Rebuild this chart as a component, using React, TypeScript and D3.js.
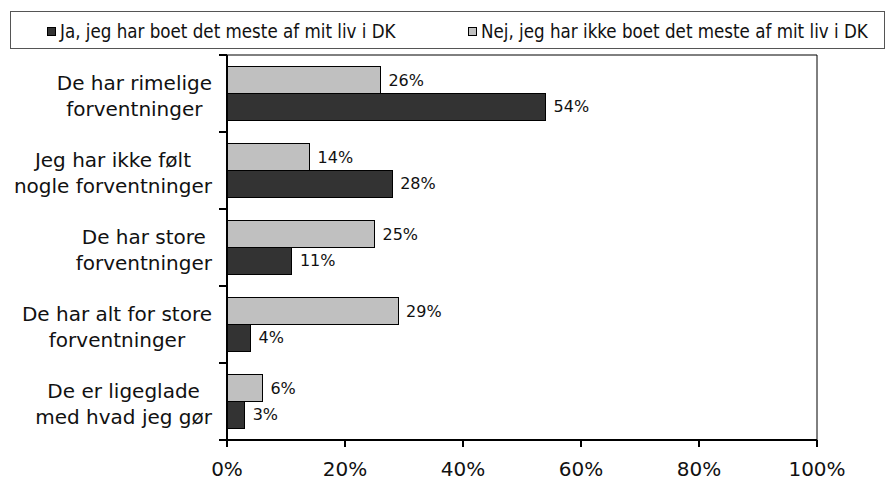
import React, { useEffect, useRef } from 'react';
import * as d3 from 'd3';

// Survey data, shares of respondents
const categories = [
  'De har rimelige\nforventninger',
  'Jeg har ikke følt\nnogle forventninger',
  'De har store\nforventninger',
  'De har alt for store\nforventninger',
  'De er ligeglade\nmed hvad jeg gør',
];
const seriesNames = [
  'Nej, jeg har ikke boet det meste af mit liv i DK',
  'Ja, jeg har boet det meste af mit liv i DK',
];
const nejValues = [26, 14, 25, 29, 6];
const jaValues = [54, 28, 11, 4, 3];
const xTicks = [0, 20, 40, 60, 80, 100];

const App: React.FC = () => {
  const svgRef = useRef<SVGSVGElement>(null);

  useEffect(() => {
    if (!svgRef.current) return;
    const width = 895;
    const height = 480;
    const margin = { top: 55, right: 78, bottom: 40, left: 227 };
    const font = "'DejaVu Sans', Verdana, sans-serif";

    const svg = d3.select(svgRef.current);
    svg.selectAll('*').remove();
    svg.attr('width', width).attr('height', height);

    const x = d3.scaleLinear().domain([0, 100]).range([margin.left, width - margin.right]);
    const y = d3.scaleBand<number>()
      .domain(d3.range(categories.length))
      .range([margin.top, height - margin.bottom])
      .paddingInner(0.31)
      .paddingOuter(0.155);
    const inner = d3.scaleBand<number>().domain([0, 1]).range([0, y.bandwidth()]);
    const boundScale = d3.scaleLinear().domain([0, categories.length]).range([margin.top, height - margin.bottom]);

    // Plot frame (thin top/right)
    svg.append('path')
      .attr('d', `M${x(0)},${margin.top}H${x(100)}V${height - margin.bottom}`)
      .attr('fill', 'none')
      .attr('stroke', '#000')
      .attr('stroke-width', 1);

    const series = [
      { values: nejValues, fill: '#c0c0c0' },
      { values: jaValues, fill: '#333333' },
    ];

    series.forEach((s, si) => {
      const g = svg.append('g');
      g.selectAll('rect')
        .data(s.values)
        .enter()
        .append('rect')
        .attr('x', x(0))
        .attr('y', (d, i) => (y(i) as number) + (inner(si) as number))
        .attr('width', d => x(d) - x(0))
        .attr('height', inner.bandwidth())
        .attr('fill', s.fill)
        .attr('stroke', '#000')
        .attr('stroke-width', 1)
        .attr('shape-rendering', 'crispEdges');

      g.selectAll('text')
        .data(s.values)
        .enter()
        .append('text')
        .attr('x', d => x(d) + 8)
        .attr('y', (d, i) => (y(i) as number) + (inner(si) as number) + inner.bandwidth() / 2)
        .attr('dy', '0.35em')
        .style('font-family', font)
        .style('font-size', '16px')
        .attr('fill', '#111')
        .text(d => `${d}%`);
    });

    // Y axis line and ticks at band boundaries
    const yAxis = svg.append('g');
    yAxis.append('line')
      .attr('x1', x(0)).attr('x2', x(0))
      .attr('y1', margin.top).attr('y2', height - margin.bottom + 7)
      .attr('stroke', '#000').attr('stroke-width', 2);
    yAxis.selectAll('.tick')
      .data(d3.range(categories.length + 1))
      .enter()
      .append('line')
      .attr('x1', x(0) - 8).attr('x2', x(0))
      .attr('y1', d => boundScale(d)).attr('y2', d => boundScale(d))
      .attr('stroke', '#000').attr('stroke-width', 2);

    // X axis
    const xAxis = svg.append('g');
    xAxis.append('line')
      .attr('x1', x(0) - 8).attr('x2', x(100))
      .attr('y1', height - margin.bottom).attr('y2', height - margin.bottom)
      .attr('stroke', '#000').attr('stroke-width', 2);
    xAxis.selectAll('.tick')
      .data(xTicks)
      .enter()
      .append('line')
      .attr('x1', d => x(d)).attr('x2', d => x(d))
      .attr('y1', height - margin.bottom).attr('y2', height - margin.bottom + 7)
      .attr('stroke', '#000').attr('stroke-width', 2);
    xAxis.selectAll('text')
      .data(xTicks)
      .enter()
      .append('text')
      .attr('x', d => x(d))
      .attr('y', height - 11)
      .attr('dy', '0.35em')
      .attr('text-anchor', 'middle')
      .style('font-family', font)
      .style('font-size', '20px')
      .attr('fill', '#111')
      .text(d => `${d}%`);

    // Category labels: centered lines, block right-aligned to axis
    categories.forEach((c, i) => {
      const lines = c.split('\n');
      const cy = boundScale(i + 0.5) + 2;
      const g = svg.append('g');
      const texts = lines.map((l, li) =>
        g.append('text')
          .attr('y', cy + (li - (lines.length - 1) / 2) * 26)
          .attr('dy', '0.35em')
          .attr('text-anchor', 'middle')
          .style('font-family', font)
          .style('font-size', '20px')
          .attr('fill', '#111')
          .text(l)
      );
      const maxW = d3.max(texts, t => (t.node() as SVGTextElement).getComputedTextLength()) || 0;
      texts.forEach(t => t.attr('x', x(0) - 15 - maxW / 2));
    });

    // Legend
    const lg = svg.append('g');
    lg.append('rect')
      .attr('x', 10.5).attr('y', 11.5).attr('width', 874).attr('height', 37)
      .attr('fill', '#fff').attr('stroke', '#555').attr('stroke-width', 1);
    const legendItems = [
      { name: seriesNames[1], fill: '#333333', x: 47 },
      { name: seriesNames[0], fill: '#c0c0c0', x: 468 },
    ];
    legendItems.forEach(it => {
      lg.append('rect')
        .attr('x', it.x + 0.5).attr('y', 27.5).attr('width', 8).attr('height', 8)
        .attr('fill', it.fill).attr('stroke', '#000').attr('stroke-width', 1);
      lg.append('text')
        .attr('x', it.x + 13).attr('y', 31.5)
        .attr('dy', '0.35em')
        .style('font-family', "'DejaVu Sans Condensed', 'DejaVu Sans', sans-serif")
        .style('font-size', '18.6px')
        .attr('fill', '#111')
        .text(it.name);
    });
  }, []);

  return (
    <div style={{ position: 'absolute', left: 0, top: 0, background: '#fff' }}>
      <svg ref={svgRef} style={{ display: 'block' }} />
    </div>
  );
};

export default App;
